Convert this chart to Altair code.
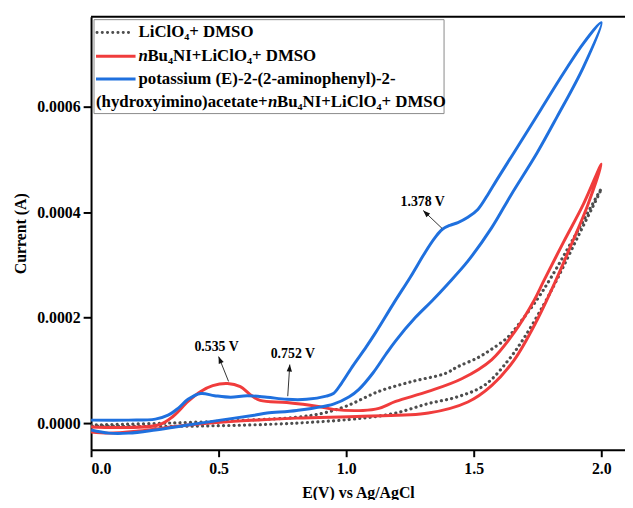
import math
import altair as alt
import pandas as pd

# ---- data: E in V, current in units of 1e-4 A ----
# blue: potassium ... + nBu4NI + LiClO4 + DMSO
blue_fwd_x = [0.0, 0.147, 0.252, 0.302, 0.341, 0.380, 0.430, 0.484, 0.547, 0.612, 0.690, 0.767, 0.845,
              0.922, 0.950, 0.981, 1.027, 1.078, 1.116, 1.186, 1.252, 1.310, 1.349, 1.376, 1.407, 1.438,
              1.477, 1.516, 1.554, 1.593, 1.671, 1.764, 1.853, 1.930, 2.0]
blue_fwd_y = [0.056, 0.056, 0.075, 0.15, 0.28, 0.45, 0.56, 0.52, 0.49, 0.52, 0.49, 0.45, 0.45,
              0.51, 0.56, 0.75, 1.09, 1.44, 1.72, 2.27, 2.77, 3.24, 3.52, 3.67, 3.75, 3.80,
              3.90, 4.05, 4.32, 4.63, 5.23, 5.95, 6.64, 7.20, 7.59]
blue_rev_x = [2.0, 1.930, 1.826, 1.748, 1.647, 1.570, 1.477, 1.395, 1.337, 1.271, 1.194, 1.155, 1.105,
              1.050, 1.012, 0.950, 0.806, 0.690, 0.640, 0.508, 0.380, 0.252, 0.147, 0.070, 0.0]
blue_rev_y = [7.59, 6.75, 5.80, 5.12, 4.33, 3.70, 3.07, 2.62, 2.32, 2.00, 1.56, 1.30, 0.95,
              0.64, 0.50, 0.36, 0.24, 0.19, 0.15, 0.056, -0.037, -0.13, -0.19, -0.19, -0.13]

# red: nBu4NI + LiClO4 + DMSO
red_fwd_x = [0.0, 0.264, 0.322, 0.380, 0.430, 0.477, 0.535, 0.585, 0.624, 0.663, 0.767, 0.884, 0.950,
             1.066, 1.128, 1.194, 1.322, 1.453, 1.570, 1.659, 1.736, 1.775, 1.853, 1.930, 2.0]
red_fwd_y = [-0.075, -0.037, 0.13, 0.41, 0.60, 0.71, 0.75, 0.69, 0.54, 0.43, 0.39, 0.32, 0.26,
             0.24, 0.28, 0.41, 0.60, 0.84, 1.20, 1.72, 2.32, 2.70, 3.44, 4.15, 4.91]
red_rev_x = [2.0, 1.946, 1.884, 1.814, 1.748, 1.659, 1.570, 1.477, 1.322, 1.066, 0.806, 0.574,
             0.380, 0.186, 0.070, 0.0]
red_rev_y = [4.91, 4.12, 3.40, 2.62, 1.95, 1.20, 0.71, 0.40, 0.19, 0.13, 0.094, 0.037,
             -0.037, -0.15, -0.19, -0.17]

# gray dotted: LiClO4 + DMSO
gray_fwd_x = [0.0, 0.302, 0.612, 0.806, 0.911, 1.0, 1.128, 1.260, 1.388, 1.438, 1.516, 1.570, 1.632,
              1.671, 1.748, 1.802, 1.891, 2.0]
gray_fwd_y = [-0.037, 0.0, 0.056, 0.11, 0.19, 0.32, 0.60, 0.79, 0.94, 1.07, 1.24, 1.40, 1.62,
              1.84, 2.34, 2.75, 3.50, 4.44]
gray_rev_x = [2.0, 1.911, 1.826, 1.775, 1.698, 1.632, 1.543, 1.438, 1.322, 1.194, 1.066, 0.806,
              0.419, 0.0]
gray_rev_y = [4.44, 3.56, 2.72, 2.25, 1.62, 1.17, 0.72, 0.50, 0.37, 0.19, 0.094, 0.0,
              -0.056, -0.056]

# annotations
ann_text = ["0.535 V", "0.752 V", "1.378 V"]
ann_x = [0.492, 0.791, 1.300]
ann_y = [1.443, 1.312, 4.198]
arrow_tail_x = [0.539, 0.771, 1.376]
arrow_tail_y = [0.79, 0.51, 3.69]
arrow_tip_x = [0.500, 0.779, 1.302]
arrow_tip_y = [1.26, 1.11, 4.03]

y_ticks = [0, 2, 4, 6]
x_ticks = [0.0, 0.5, 1.0, 1.5, 2.0]

W, H = 540, 438
XDOM = [0, 2.093]
YDOM = [-0.506, 7.704]
FONT = "Liberation Serif"

BLUE = "#1F70DE"
RED = "#F03C3C"
GRAY = "#4D4D4D"


def loop(fx, fy, rx, ry):
    xs = list(fx) + list(rx[1:])
    ys = list(fy) + list(ry[1:])
    return pd.DataFrame({"E": xs, "I": ys, "i": list(range(len(xs)))})


xscale = alt.Scale(domain=XDOM, nice=False, zero=False)
yscale = alt.Scale(domain=YDOM, nice=False, zero=False)

xaxis = alt.Axis(values=x_ticks, format=".1f", title="E(V) vs Ag/AgCl", labelPadding=4,
                 titlePadding=8, tickSize=7)
yaxis = alt.Axis(values=y_ticks, labelExpr="format(datum.value/10000, '.4f')", title="Current (A)",
                 labelPadding=3, titlePadding=8, tickSize=8)


def curve(df, color, dash=None, width=3.0):
    kw = dict(color=color, strokeWidth=width, interpolate="catmull-rom", clip=True)
    if dash is not None:
        kw["strokeDash"] = dash
        kw["strokeCap"] = "round"
    return alt.Chart(df).mark_line(**kw).encode(
        x=alt.X("E:Q", scale=xscale, axis=xaxis),
        y=alt.Y("I:Q", scale=yscale, axis=yaxis),
        order="i:Q",
    )


gray = curve(loop(gray_fwd_x, gray_fwd_y, gray_rev_x, gray_rev_y), GRAY, dash=[0.1, 5.2], width=3.2)
red = curve(loop(red_fwd_x, red_fwd_y, red_rev_x, red_rev_y), RED)
blue = curve(loop(blue_fwd_x, blue_fwd_y, blue_rev_x, blue_rev_y), BLUE)

PX_X = W / (XDOM[1] - XDOM[0])
PX_Y = H / (YDOM[1] - YDOM[0])
angles = []
for tx, ty, hx, hy in zip(arrow_tail_x, arrow_tail_y, arrow_tip_x, arrow_tip_y):
    dx = (hx - tx) * PX_X
    dy = (hy - ty) * PX_Y  # upward positive
    angles.append(math.degrees(math.atan2(dx, dy)) % 360)

arr_df = pd.DataFrame({"x": arrow_tail_x, "y": arrow_tail_y, "x2": arrow_tip_x, "y2": arrow_tip_y,
                       "ang": angles})
arrows = alt.Chart(arr_df).mark_rule(color="#333333", strokeWidth=1).encode(
    x=alt.X("x:Q", scale=xscale), y=alt.Y("y:Q", scale=yscale), x2="x2:Q", y2="y2:Q")
heads = alt.Chart(arr_df).mark_point(shape="M0,0L0.38,1L-0.38,1Z", filled=True, size=200,
                                      color="#111111", opacity=1, strokeWidth=0).encode(
    x=alt.X("x2:Q", scale=xscale), y=alt.Y("y2:Q", scale=yscale),
    angle=alt.Angle("ang:Q", scale=None))

ann_df = pd.DataFrame({"x": ann_x, "y": ann_y, "t": ann_text})
ann = alt.Chart(ann_df).mark_text(font=FONT, fontWeight="bold", fontSize=14, color="black").encode(
    x=alt.X("x:Q", scale=xscale), y=alt.Y("y:Q", scale=yscale), text="t:N")

# top frame line
top_line = alt.Chart(pd.DataFrame({"a": [0]})).mark_rule(color="black", strokeWidth=2).encode(
    x=alt.value(0), x2=alt.value(W + 10), y=alt.value(0))

# legend (drawn by hand to keep the italic n and subscripts)
leg_box = alt.Chart(pd.DataFrame({"a": [0]})).mark_rect(fill="white", stroke="#8a8a8a",
                                                       strokeWidth=1).encode(
    x=alt.value(3), x2=alt.value(357), y=alt.value(3), y2=alt.value(98))
leg_gray = alt.Chart(pd.DataFrame({"a": [0]})).mark_rule(
    color=GRAY, strokeWidth=3, strokeDash=[0.1, 5.2], strokeCap="round").encode(
    x=alt.value(6), x2=alt.value(40), y=alt.value(16))
leg_red = alt.Chart(pd.DataFrame({"a": [0]})).mark_rule(color=RED, strokeWidth=3).encode(
    x=alt.value(5), x2=alt.value(45), y=alt.value(40))
leg_blue = alt.Chart(pd.DataFrame({"a": [0]})).mark_rule(color=BLUE, strokeWidth=3).encode(
    x=alt.value(5), x2=alt.value(45), y=alt.value(63))

leg_normal = pd.DataFrame({
    "px": [48, 57, 48, 5, 188],
    "py": [16, 40, 63, 86, 86],
    "t": ["LiClO\u2084+ DMSO", "Bu\u2084NI+LiClO\u2084+ DMSO", "potassium (E)-2-(2-aminophenyl)-2-",
          "(hydroxyimino)acetate+", "Bu\u2084NI+LiClO\u2084+ DMSO"],
})
leg_italic = pd.DataFrame({"px": [48, 179], "py": [40, 86], "t": ["n", "n"]})
leg_t1 = alt.Chart(leg_normal).mark_text(font=FONT, fontWeight="bold", fontSize=17, align="left",
                                         baseline="middle", color="black").encode(
    x=alt.X("px:Q", scale=None), y=alt.Y("py:Q", scale=None), text="t:N")
leg_t2 = alt.Chart(leg_italic).mark_text(font=FONT, fontWeight="bold", fontStyle="italic",
                                         fontSize=17, align="left", baseline="middle",
                                         color="black").encode(
    x=alt.X("px:Q", scale=None), y=alt.Y("py:Q", scale=None), text="t:N")

chart = alt.layer(
    gray, red, blue, arrows, heads, ann, top_line,
    leg_box, leg_gray, leg_red, leg_blue, leg_t1, leg_t2,
).resolve_scale(x="shared", y="shared").properties(
    width=W, height=H,
    autosize=alt.AutoSizeParams(type="none"),
    padding={"left": 84, "top": 6, "right": 0, "bottom": 48},
    background="white",
).configure_view(stroke="transparent").configure_axis(
    grid=False, domainColor="black", domainWidth=2, tickColor="black", tickWidth=2,
    labelFont=FONT, labelFontWeight="bold", labelFontSize=16, labelColor="black",
    titleFont=FONT, titleFontWeight="bold", titleFontSize=16, titleColor="black",
)

chart.save("out.html", embed_options={"renderer": "svg", "actions": False})
